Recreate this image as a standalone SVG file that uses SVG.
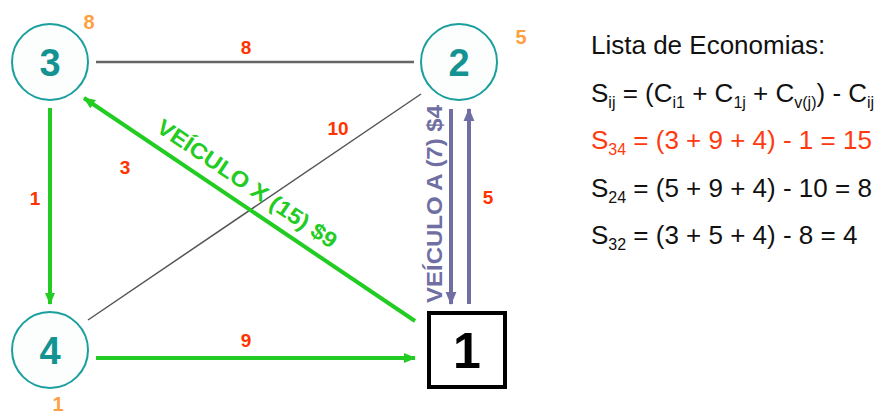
<svg xmlns="http://www.w3.org/2000/svg" width="885" height="416" viewBox="0 0 885 416">
<style>
.node circle{fill:#fcfefe;stroke:#1a9e9e;stroke-width:2}
.nt{font-family:"Liberation Sans",Arial,sans-serif;font-weight:bold;font-size:38px;fill:#159393;text-anchor:middle}
.dem{font-family:"Liberation Sans",Arial,sans-serif;font-weight:bold;font-size:20px;fill:#ffa040;text-anchor:middle}
.cost{font-family:"Liberation Sans",Arial,sans-serif;font-weight:bold;font-size:19px;fill:#ff3300;text-anchor:middle}
.green{stroke:#22cc22;stroke-width:4;fill:none}
.purple{stroke:#6f6fa3;stroke-width:4;fill:none}
.gl{font-family:"Liberation Sans",Arial,sans-serif;font-weight:bold;font-size:22px;fill:#22cc22;text-anchor:middle}
.pl{font-family:"Liberation Sans",Arial,sans-serif;font-weight:bold;font-size:22px;fill:#6f6fa3;text-anchor:middle}
.eq{font-family:"Liberation Sans",Arial,sans-serif;font-size:26px;fill:#111}
.sub{font-size:16px}
</style>
<defs>
<marker id="ag" viewBox="0 0 12 10" refX="11" refY="5" markerWidth="12" markerHeight="10" markerUnits="userSpaceOnUse" orient="auto"><path d="M0,0 L12,5 L0,10 z" fill="#22cc22"/></marker>
<marker id="ap" viewBox="0 0 12 10" refX="11" refY="5" markerWidth="13" markerHeight="12" markerUnits="userSpaceOnUse" orient="auto"><path d="M0,0 L12,5 L0,10 z" fill="#6f6fa3"/></marker>
</defs>
<rect width="885" height="416" fill="#ffffff"/>
<g id="connectors">
<line x1="96" y1="62" x2="414" y2="62" stroke="#666" stroke-width="2.5"/>
<line x1="88" y1="320" x2="421" y2="94" stroke="#555" stroke-width="1.5"/>
<line class="green" x1="415" y1="321" x2="84" y2="98" marker-end="url(#ag)"/>
<line class="green" x1="50" y1="108" x2="50" y2="304" marker-end="url(#ag)"/>
<line class="green" x1="96" y1="358" x2="415" y2="358" marker-end="url(#ag)"/>
<line class="purple" x1="451" y1="109" x2="451" y2="304" marker-end="url(#ap)"/>
<line class="purple" x1="469" y1="304" x2="469" y2="109" marker-end="url(#ap)"/>
<text class="cost" x="246" y="54">8</text>
<text class="cost" x="338" y="135">10</text>
<text class="cost" x="125" y="174">3</text>
<text class="cost" x="35" y="205">1</text>
<text class="cost" x="246" y="347">9</text>
<text class="cost" x="488" y="204">5</text>
<text class="gl" transform="translate(243,190) rotate(34)" textLength="212" lengthAdjust="spacingAndGlyphs">VEÍCULO X (15) $9</text>
<text class="pl" transform="translate(442,204) rotate(-90)" textLength="198" lengthAdjust="spacingAndGlyphs">VEÍCULO A (7) $4</text>
</g>
<g id="node3" class="node"><circle cx="50" cy="62" r="38"/><text class="nt" x="50" y="76">3</text><text class="dem" x="89" y="29">8</text></g>
<g id="node2" class="node"><circle cx="459" cy="62" r="38"/><text class="nt" x="459" y="76">2</text><text class="dem" x="521" y="44">5</text></g>
<g id="node4" class="node"><circle cx="50" cy="350" r="38"/><text class="nt" x="50" y="364">4</text><text class="dem" x="58" y="411">1</text></g>
<g id="node1"><rect x="429" y="313" width="76" height="74" fill="#ffffff" stroke="#000" stroke-width="4"/><text x="467" y="368" font-family="Liberation Sans,Arial,sans-serif" font-weight="bold" font-size="50" text-anchor="middle" fill="#000">1</text></g>
<g id="legend">
<text class="eq" x="591" y="54">Lista de Economias:</text>
<text class="eq" x="591" y="102">S<tspan class="sub" dy="6">ij</tspan><tspan dy="-6"> = (C</tspan><tspan class="sub" dy="6">i1</tspan><tspan dy="-6"> + C</tspan><tspan class="sub" dy="6">1j</tspan><tspan dy="-6"> + C</tspan><tspan class="sub" dy="6">v(j)</tspan><tspan dy="-6">) - C</tspan><tspan class="sub" dy="6">ij</tspan></text>
<text class="eq" x="591" y="149" fill="#ff3a10" style="fill:#ff3a10">S<tspan class="sub" dy="6">34</tspan><tspan dy="-6"> = (3 + 9 + 4) - 1 = 15</tspan></text>
<text class="eq" x="591" y="197">S<tspan class="sub" dy="6">24</tspan><tspan dy="-6"> = (5 + 9 + 4) - 10 = 8</tspan></text>
<text class="eq" x="591" y="244">S<tspan class="sub" dy="6">32</tspan><tspan dy="-6"> = (3 + 5 + 4) - 8 = 4</tspan></text>
</g>
</svg>
